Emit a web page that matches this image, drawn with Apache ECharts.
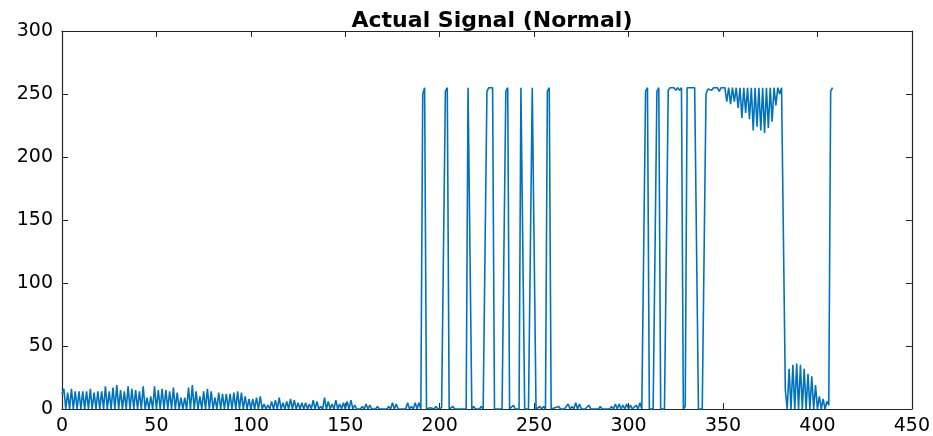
<!DOCTYPE html>
<html>
<head>
<meta charset="utf-8">
<title>Actual Signal (Normal)</title>
<script src="https://cdn.jsdelivr.net/npm/echarts@6/dist/echarts.min.js"></script>
<style>
  html, body { margin: 0; padding: 0; background: #fff; }
  #main { width: 933px; height: 436px; }
</style>
</head>
<body>
<div id="main"></div>
<script>
// signal samples, index 0..408
var signal = [
  12, 16, 0, 13, 0, 16, 0, 14, 0, 14, 0, 14, 0, 14, 0, 16, 0, 13, 0, 14,
  0, 14, 0, 18, 0, 14, 0, 17, 0, 19, 0, 15, 0, 14, 0, 18, 0, 16, 0, 15,
  0, 14, 0, 18, 0, 9, 0, 10, 0, 18, 0, 15, 0, 16, 0, 15, 0, 14, 0, 17,
  0, 13, 0, 9, 0, 9, 0, 17, 0, 19, 0, 14, 0, 10, 0, 14, 0, 16, 0, 14,
  0, 9, 0, 13, 0, 12, 0, 12, 0, 12, 0, 13, 0, 14, 0, 13, 0, 10, 0, 8,
  0, 8, 0, 9, 0, 10, 0, 4, 0, 3, 0, 6, 0, 7, 0, 9, 0, 5, 0, 6,
  0, 8, 0, 7, 0, 5, 0, 5, 0, 5, 0, 4, 0, 7, 0, 6, 0, 2, 0, 9,
  0, 6, 0, 4, 0, 7, 0, 4, 0, 5, 0, 6, 0, 7, 0, 3, 0, 1, 0, 2,
  0, 4, 0, 3, 0, 1, 0, 2, 0, 0, 0, 0, 0, 2, 0, 5, 0, 4, 0, 1,
  0, 0, 0, 5, 0, 2, 0, 5, 0, 5, 0, 250, 255, 0, 0, 1, 0, 0, 2, 0,
  0, 1, 0, 252, 255, 0, 0, 2, 0, 0, 0, 0, 0, 0, 0, 255, 255, 0, 2, 0,
  0, 0, 2, 0, 0, 252, 255, 255, 255, 0, 1, 0, 0, 0, 0, 252, 255, 0, 0, 3,
  0, 0, 0, 255, 255, 0, 0, 0, 0, 255, 255, 0, 0, 2, 0, 2, 0, 252, 255, 0,
  0, 1, 0, 2, 0, 0, 0, 0, 4, 0, 2, 0, 5, 0, 4, 0, 0, 0, 0, 3,
  0, 0, 0, 0, 0, 2, 0, 0, 0, 0, 0, 2, 0, 4, 0, 4, 0, 3, 0, 4,
  0, 3, 0, 0, 3, 0, 5, 0, 0, 252, 255, 0, 0, 0, 0, 252, 255, 0, 0, 0,
  0, 253, 255, 254, 255, 253, 255, 253, 255, 0, 2, 255, 255, 255, 255, 255, 255, 0, 0, 0,
  0, 250, 254, 255, 253, 255, 254, 255, 252, 255, 254, 255, 244, 255, 242, 255, 244, 255, 239, 255,
  231, 255, 235, 255, 230, 255, 221, 255, 224, 255, 221, 255, 219, 255, 223, 255, 228, 255, 241, 255,
  250, 255, 255, 15, 0, 32, 0, 35, 0, 36, 0, 35, 0, 32, 0, 28, 0, 26, 0, 19,
  0, 10, 0, 8, 0, 6, 3, 252, 255
];

var xTicks = { min: 0, max: 450, step: 50 };
var yTicks = { min: 0, max: 300, step: 50 };

var chart = echarts.init(document.getElementById('main'));

var axisColor = '#262626';
var labelFont = 'DejaVu Sans';

function xAxisCfg(pos, showLabel) {
  return {
    type: 'value',
    position: pos,
    min: xTicks.min,
    max: xTicks.max,
    interval: xTicks.step,
    axisLine: { show: true, onZero: false, lineStyle: { color: axisColor, width: 1.2 } },
    axisTick: { show: true, inside: true, length: 6, lineStyle: { color: axisColor } },
    axisLabel: { show: showLabel, color: '#000', fontFamily: labelFont, fontSize: 19, margin: 8 },
    splitLine: { show: false }
  };
}

function yAxisCfg(pos, showLabel) {
  return {
    type: 'value',
    position: pos,
    min: yTicks.min,
    max: yTicks.max,
    interval: yTicks.step,
    axisLine: { show: true, onZero: false, lineStyle: { color: axisColor, width: 1.2 } },
    axisTick: { show: true, inside: true, length: 6, lineStyle: { color: axisColor } },
    axisLabel: { show: showLabel, color: '#000', fontFamily: labelFont, fontSize: 19, margin: 9 },
    splitLine: { show: false }
  };
}

var option = {
  backgroundColor: '#fff',
  animation: false,
  title: {
    text: 'Actual Signal (Normal)',
    left: 487,
    textAlign: 'center',
    top: 5,
    textStyle: { fontFamily: labelFont, fontWeight: 'bold', fontSize: 22, color: '#000' }
  },
  grid: { left: 62, right: 21, top: 31, bottom: 26, containLabel: false },
  xAxis: [xAxisCfg('bottom', true), xAxisCfg('top', false)],
  yAxis: [yAxisCfg('left', true), yAxisCfg('right', false)],
  series: [
    {
      name: 'Actual Signal',
      type: 'line',
      xAxisIndex: 0,
      yAxisIndex: 0,
      showSymbol: false,
      symbol: 'none',
      color: '#0072bd',
      lineStyle: { width: 1.6, color: '#0072bd' },
      data: signal.map(function (v, i) { return [i, v]; })
    }
  ]
};

chart.setOption(option);
</script>
</body>
</html>
